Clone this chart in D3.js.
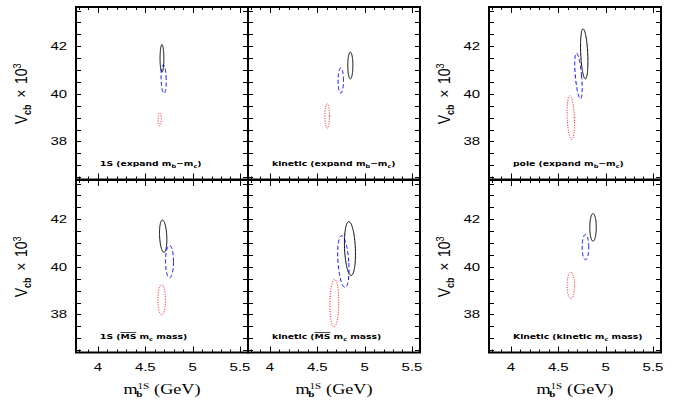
<!DOCTYPE html>
<html><head><meta charset="utf-8">
<script src="https://cdn.jsdelivr.net/npm/d3@7"></script>
<style>body{margin:0;background:#fff}svg{display:block}</style>
</head><body>
<script>
// ---------------- data ----------------
const panelLabels = [
  [["1S (expand m",""],["b","sub"],["\u2212m",""],["c","sub"],[")",""]],
  [["kinetic (expand m",""],["b","sub"],["\u2212m",""],["c","sub"],[")",""]],
  [["pole (expand m",""],["b","sub"],["\u2212m",""],["c","sub"],[")",""]],
  [["1S (",""],["MS","bar"],[" m",""],["c","sub"],[" mass)",""]],
  [["kinetic (",""],["MS","bar"],[" m",""],["c","sub"],[" mass)",""]],
  [["Kinetic (kinetic m",""],["c","sub"],[" mass)",""]]
];
const seriesNames = ["solid", "dashed", "dotted"];
const seriesColors = ["#000000", "#0000ff", "#ff0000"];
const seriesDash = [null, "4,2.5", "1,1.5"];
// ellipse centres (m_b in GeV, Vcb x 10^3)
const centerX = [
  [4.676, 4.694, 4.652],
  [4.849, 4.748, 4.605],
  [4.774, 4.713, 4.632],
  [4.689, 4.756, 4.673],
  [4.845, 4.775, 4.680],
  [4.867, 4.787, 4.632]
];
const centerY = [
  [41.49, 40.62, 38.93],
  [41.19, 40.56, 39.07],
  [41.68, 40.75, 39.00],
  [41.29, 40.22, 38.62],
  [40.77, 40.22, 38.47],
  [41.66, 40.83, 39.22]
];
const halfWidth = [
  [0.020, 0.027, 0.017],
  [0.027, 0.029, 0.025],
  [0.037, 0.033, 0.038],
  [0.038, 0.042, 0.040],
  [0.057, 0.057, 0.047],
  [0.034, 0.035, 0.039]
];
const halfHeight = [
  [0.58, 0.60, 0.27],
  [0.56, 0.53, 0.51],
  [1.05, 0.96, 0.92],
  [0.68, 0.68, 0.64],
  [1.13, 1.09, 1.00],
  [0.58, 0.53, 0.55]
];
const shear = [
  [0, -0.004, 0],
  [0, 0, 0],
  [-0.012, -0.021, -0.009],
  [-0.008, 0, 0],
  [-0.012, -0.018, 0.003],
  [0, 0, 0]
];
const xTickLabels = [4, 4.5, 5, 5.5];
const yTickLabels = [38, 40, 42];
const xDomain = [3.768, 5.585];
const yDomain = [36.4, 43.65];

// ---------------- layout ----------------
const W = 683, H = 400;
const colLeft = [76, 248, 489], pw = 172;
const titleOffset = [49, 0, 39];
const rowTop = [7, 180], ph = 172.5;
const SX = 1.3; // horizontal text stretch of the original

const svg = d3.select("body").append("svg").attr("width", W).attr("height", H);

function stretchedText(g, x, y, opts) {
  const t = g.append("g").attr("transform", `translate(${x},${y}) scale(${SX},1)`)
    .append("text").attr("x", 0).attr("y", 0)
    .attr("font-family", opts.family || "'Liberation Sans', Arial, sans-serif")
    .attr("font-size", opts.size || 11)
    .attr("font-weight", opts.weight || "normal")
    .attr("text-anchor", opts.anchor || "middle")
    .attr("fill", "#000");
  return t;
}

const theta = d3.range(0, 2 * Math.PI, Math.PI / 60);

panelLabels.forEach((label, p) => {
  const col = p < 3 ? p : p - 3;
  const row = p < 3 ? 0 : 1;
  const left = colLeft[col], top = rowTop[row];
  const x = d3.scaleLinear().domain(xDomain).range([left, left + pw]);
  const y = d3.scaleLinear().domain(yDomain).range([top + ph, top]);
  const g = svg.append("g");

  // ellipses
  seriesNames.forEach((s, k) => {
    const cx = centerX[p][k], cy = centerY[p][k];
    const rx = halfWidth[p][k], ry = halfHeight[p][k], sh = shear[p][k];
    const pts = theta.map(t => [cx + rx * Math.cos(t) + sh * Math.sin(t), cy + ry * Math.sin(t)]);
    const line = d3.line().x(d => x(d[0])).y(d => y(d[1])).curve(d3.curveLinearClosed);
    g.append("path").attr("d", line(pts)).attr("fill", "none")
      .attr("stroke", seriesColors[k]).attr("stroke-width", 1)
      .attr("stroke-dasharray", seriesDash[k]);
  });

  // ticks (inward, all four sides)
  const xt = d3.range(38, 56).map(v => v / 10);
  xt.forEach(v => {
    const major = Math.abs(v * 2 - Math.round(v * 2)) < 1e-6;
    const len = major ? 6 : 3;
    const px = Math.round(x(v)) + 0.5;
    g.append("line").attr("x1", px).attr("x2", px).attr("y1", top).attr("y2", top + len)
      .attr("stroke", "#000").attr("stroke-width", 1);
    g.append("line").attr("x1", px).attr("x2", px).attr("y1", top + ph).attr("y2", top + ph - len)
      .attr("stroke", "#000").attr("stroke-width", 1);
  });
  const yt = d3.range(73, 88).map(v => v / 2);
  yt.forEach(v => {
    const py = Math.round(y(v)) + 0.5;
    g.append("line").attr("x1", left).attr("x2", left + 5).attr("y1", py).attr("y2", py)
      .attr("stroke", "#000").attr("stroke-width", 1);
    g.append("line").attr("x1", left + pw).attr("x2", left + pw - 5).attr("y1", py).attr("y2", py)
      .attr("stroke", "#000").attr("stroke-width", 1);
  });

  // frame
  g.append("rect").attr("x", left).attr("y", top).attr("width", pw).attr("height", ph)
    .attr("fill", "none").attr("stroke", "#000").attr("stroke-width", 2);

  // panel label
  const lt = stretchedText(g, left + 24, top + 159, {
    family: "'DejaVu Sans', sans-serif", size: 7.1, weight: "bold", anchor: "start"
  });
  let prevSub = false;
  label.forEach(([txt, kind]) => {
    const ts = lt.append("tspan").text(txt);
    if (kind === "sub") {
      ts.attr("font-size", 5).attr("dy", 1.6);
      prevSub = true;
    } else {
      if (prevSub) ts.attr("dy", -1.6);
      if (kind === "bar") ts.attr("text-decoration", "overline");
      prevSub = false;
    }
  });

  // y tick labels + title (columns 1 and 3)
  if (col !== 1) {
    yTickLabels.forEach(v => {
      stretchedText(g, left - 9, y(v) + 4, { size: 11.5, anchor: "end" }).text(v);
    });
    const yc = y(40);
    const tx = left - titleOffset[col];
    const tt = g.append("g").attr("transform", `translate(${tx},${yc}) rotate(-90) scale(1.12,1.25)`)
      .append("text").attr("text-anchor", "middle")
      .attr("font-family", "'Liberation Sans', Arial, sans-serif").attr("font-size", 12.5);
    tt.append("tspan").text("V");
    tt.append("tspan").text("cb").attr("font-size", 8).attr("font-weight", "bold").attr("dy", 3);
    tt.append("tspan").text("\u00d7").attr("dy", -3).attr("dx", 6);
    tt.append("tspan").text("10").attr("dx", 5);
    tt.append("tspan").text("3").attr("font-size", 8).attr("dy", -5);
  }

  // x tick labels + title (bottom row)
  if (row === 1) {
    xTickLabels.forEach(v => {
      stretchedText(g, x(v), top + ph + 18, { size: 11.5, anchor: "middle" }).text(v);
    });
    const xt2 = stretchedText(g, left + pw / 2, top + ph + 41, {
      family: "'Liberation Serif', 'Times New Roman', serif", size: 14, anchor: "middle"
    });
    xt2.append("tspan").text("m");
    xt2.append("tspan").text("1S").attr("font-size", 8.5).attr("dy", -5);
    xt2.append("tspan").text("b").attr("font-size", 8.5).attr("font-weight", "bold").attr("dx", -10).attr("dy", 8);
    xt2.append("tspan").text("(GeV)").attr("dx", 9).attr("dy", -3);
  }
});
</script>
</body></html>
